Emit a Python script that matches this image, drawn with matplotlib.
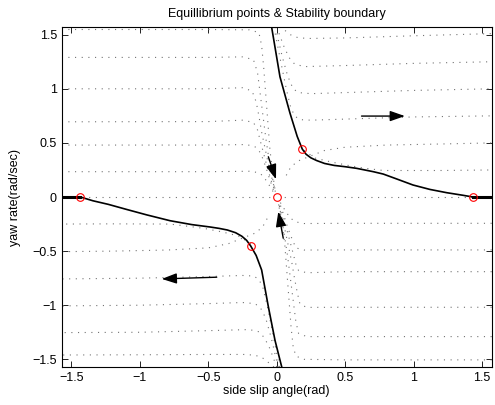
import matplotlib
matplotlib.use('Agg')
import matplotlib.pyplot as plt

plt.rcParams['font.family'] = ['Liberation Sans', 'DejaVu Sans']
plt.rcParams['font.size'] = 9

# stability boundary (solid black)
bound_up_x = [-0.037, 0.024, 0.097, 0.150, 0.187, 0.215, 0.250, 0.292, 0.350, 0.420, 0.500, 0.584, 0.706, 0.779, 0.87, 0.996, 1.12, 1.242, 1.361, 1.434]
bound_up_y = [1.571, 1.111, 0.776, 0.560, 0.443, 0.395, 0.362, 0.337, 0.310, 0.292, 0.280, 0.265, 0.234, 0.212, 0.170, 0.111, 0.070, 0.040, 0.016, 0.0]
bound_lo_x = [0.037, -0.012, -0.061, -0.110, -0.150, -0.190, -0.220, -0.255, -0.300, -0.360, -0.420, -0.487, -0.620, -0.779, -0.95, -1.096, -1.230, -1.342, -1.434]
bound_lo_y = [-1.571, -1.326, -1.013, -0.674, -0.540, -0.452, -0.400, -0.362, -0.330, -0.305, -0.290, -0.277, -0.255, -0.219, -0.165, -0.115, -0.068, -0.035, 0.0]
tail_x = [1.434, 1.571]
tail_y = [0.0, 0.0]

# equilibrium points
eq_x = [0.0, 0.187, -0.19, 1.434, -1.434]
eq_y = [0.0, 0.443, -0.452, 0.0, 0.0]

# trajectories: upper left (converge to origin)
up_left_x = [
    [-1.571, -0.5, -0.2, -0.13, -0.11, -0.095, -0.08, -0.065, -0.05, -0.03, -0.01],
    [-1.571, -0.5, -0.25, -0.17, -0.14, -0.12, -0.1, -0.08, -0.06, -0.035, -0.01],
    [-1.571, -0.5, -0.25, -0.18, -0.15, -0.13, -0.11, -0.085, -0.06, -0.03, -0.008],
    [-1.571, -0.5, -0.25, -0.17, -0.14, -0.12, -0.095, -0.07, -0.04, -0.01],
    [-1.571, -0.5, -0.22, -0.15, -0.12, -0.1, -0.075, -0.05, -0.02],
    [-1.571, -0.5, -0.2, -0.13, -0.1, -0.07, -0.04, -0.015],
    [-1.571, -0.05],
]
up_left_y = [
    [1.548, 1.548, 1.545, 1.52, 1.4, 1.2, 0.95, 0.7, 0.45, 0.22, 0.05],
    [1.29, 1.29, 1.295, 1.27, 1.15, 0.95, 0.75, 0.55, 0.38, 0.2, 0.05],
    [1.0, 1.0, 1.01, 0.98, 0.88, 0.75, 0.6, 0.45, 0.3, 0.15, 0.04],
    [0.695, 0.697, 0.71, 0.69, 0.62, 0.52, 0.4, 0.28, 0.15, 0.04],
    [0.48, 0.48, 0.485, 0.46, 0.41, 0.35, 0.26, 0.16, 0.05],
    [0.234, 0.234, 0.238, 0.225, 0.195, 0.14, 0.08, 0.025],
    [0.0, 0.0],
]

# upper right (diverge to the right)
up_right_x = [
    [0.02, 0.06, 0.1, 0.15, 0.22, 0.5, 1.0, 1.571],
    [0.0, 0.05, 0.09, 0.13, 0.2, 0.5, 1.0, 1.571],
    [-0.01, 0.04, 0.08, 0.12, 0.16, 0.25, 0.5, 1.0, 1.571],
    [-0.02, 0.03, 0.07, 0.1, 0.13, 0.17, 0.25, 0.5, 1.0, 1.571],
    [0.07, 0.1, 0.15, 0.25, 0.35, 0.5, 0.8, 1.2, 1.571],
    [0.2, 0.28, 0.39, 0.53, 0.65, 0.78, 1.2, 1.571],
]
up_right_y = [
    [1.571, 1.54, 1.5, 1.475, 1.465, 1.47, 1.49, 1.51],
    [1.571, 1.4, 1.29, 1.23, 1.205, 1.215, 1.235, 1.25],
    [1.571, 1.3, 1.12, 1.0, 0.965, 0.955, 0.965, 0.985, 1.0],
    [1.571, 1.25, 1.0, 0.84, 0.75, 0.715, 0.71, 0.72, 0.74, 0.75],
    [0.2, 0.27, 0.33, 0.38, 0.43, 0.46, 0.48, 0.49, 0.5],
    [0.43, 0.36, 0.326, 0.29, 0.265, 0.245, 0.245, 0.25],
]

# lower left (diverge to the left)
lo_left_x = [
    [-0.02, -0.06, -0.1, -0.15, -0.22, -0.5, -1.0, -1.571],
    [0.0, -0.05, -0.09, -0.13, -0.2, -0.5, -1.0, -1.571],
    [0.01, -0.04, -0.08, -0.12, -0.16, -0.25, -0.5, -1.0, -1.571],
    [0.02, -0.03, -0.07, -0.1, -0.13, -0.17, -0.25, -0.5, -1.0, -1.571],
    [-0.07, -0.1, -0.15, -0.25, -0.35, -0.5, -0.8, -1.2, -1.571],
    [-0.19, -0.28, -0.39, -0.53, -0.65, -0.78, -1.2, -1.571],
]
lo_left_y = [
    [-1.571, -1.53, -1.49, -1.465, -1.455, -1.455, -1.458, -1.46],
    [-1.571, -1.4, -1.3, -1.245, -1.225, -1.235, -1.25, -1.253],
    [-1.571, -1.3, -1.12, -1.02, -0.985, -0.975, -0.985, -1.0, -1.006],
    [-1.571, -1.25, -1.0, -0.84, -0.76, -0.73, -0.725, -0.735, -0.75, -0.757],
    [-0.2, -0.27, -0.33, -0.38, -0.43, -0.47, -0.49, -0.5, -0.505],
    [-0.43, -0.36, -0.325, -0.29, -0.27, -0.25, -0.248, -0.25],
]

# lower right (converge to origin)
lo_right_x = [
    [1.571, 0.5, 0.2, 0.14, 0.12, 0.105, 0.09, 0.075, 0.06, 0.04, 0.015],
    [1.571, 0.5, 0.22, 0.16, 0.14, 0.12, 0.1, 0.08, 0.06, 0.035, 0.01],
    [1.571, 0.5, 0.22, 0.17, 0.15, 0.13, 0.11, 0.085, 0.06, 0.03, 0.008],
    [1.571, 0.5, 0.22, 0.16, 0.14, 0.12, 0.095, 0.07, 0.04, 0.01],
    [1.571, 0.5, 0.2, 0.14, 0.12, 0.1, 0.075, 0.05, 0.02],
    [1.571, 0.5, 0.2, 0.14, 0.1, 0.07, 0.04, 0.015],
    [1.571, 0.05],
]
lo_right_y = [
    [-1.505, -1.505, -1.5, -1.47, -1.38, -1.2, -0.95, -0.7, -0.45, -0.22, -0.05],
    [-1.29, -1.29, -1.29, -1.26, -1.15, -0.95, -0.75, -0.55, -0.38, -0.2, -0.05],
    [-1.019, -1.019, -1.02, -0.99, -0.88, -0.75, -0.6, -0.45, -0.3, -0.15, -0.04],
    [-0.69, -0.69, -0.7, -0.68, -0.62, -0.52, -0.4, -0.28, -0.15, -0.04],
    [-0.489, -0.489, -0.49, -0.47, -0.41, -0.35, -0.26, -0.16, -0.05],
    [-0.243, -0.243, -0.245, -0.23, -0.195, -0.14, -0.08, -0.025],
    [0.0, 0.0],
]

# direction arrows (start, end)
arrow_start = [(0.62, 0.748), (-0.438, -0.741), (-0.061, 0.372), (0.048, -0.381)]
arrow_end = [(0.937, 0.748), (-0.84, -0.757), (-0.005, 0.164), (0.012, -0.135)]

ticks = [-1.5, -1, -0.5, 0, 0.5, 1, 1.5]
tick_labels = ['\u22121.5', '\u22121', '\u22120.5', '0', '0.5', '1', '1.5']

fig = plt.figure(figsize=(4.95, 4.05), dpi=100)
ax = fig.add_axes([0.1246, 0.0938, 0.8687, 0.8395])

for xs_group, ys_group in [(up_left_x, up_left_y), (up_right_x, up_right_y),
                           (lo_left_x, lo_left_y), (lo_right_x, lo_right_y)]:
    for xs, ys in zip(xs_group, ys_group):
        ax.plot(xs, ys, color='0.45', linestyle=(0, (1, 5)), linewidth=0.8)

ax.plot(bound_up_x, bound_up_y, color='k', linewidth=1.2)
ax.plot(bound_lo_x, bound_lo_y, color='k', linewidth=1.2)
ax.plot(tail_x, tail_y, color='k', linewidth=2.2)
ax.plot([-t for t in tail_x], tail_y, color='k', linewidth=2.2)

ax.plot(eq_x, eq_y, linestyle='none', marker='o', markersize=5.5,
        markerfacecolor='none', markeredgecolor='r', markeredgewidth=0.8)

for s, e in zip(arrow_start, arrow_end):
    ax.annotate('', xy=e, xytext=s,
                arrowprops=dict(arrowstyle='-|>,head_length=1.0,head_width=0.35',
                                color='k', linewidth=1.0, shrinkA=0, shrinkB=0))

ax.set_xlim(-1.571, 1.571)
ax.set_ylim(-1.571, 1.571)
ax.set_xticks(ticks)
ax.set_yticks(ticks)
ax.set_xticklabels(tick_labels)
ax.set_yticklabels(tick_labels)
ax.tick_params(direction='in', top=True, right=True, length=4, width=0.6, labelsize=9)
for sp in ax.spines.values():
    sp.set_linewidth(0.8)

ax.set_title('Equillibrium points & Stability boundary', fontsize=9, pad=7)
ax.set_xlabel('side slip angle(rad)', fontsize=9, labelpad=1)
ax.set_ylabel('yaw rate(rad/sec)', fontsize=9, labelpad=8)

fig.savefig('out.png', dpi=100)
